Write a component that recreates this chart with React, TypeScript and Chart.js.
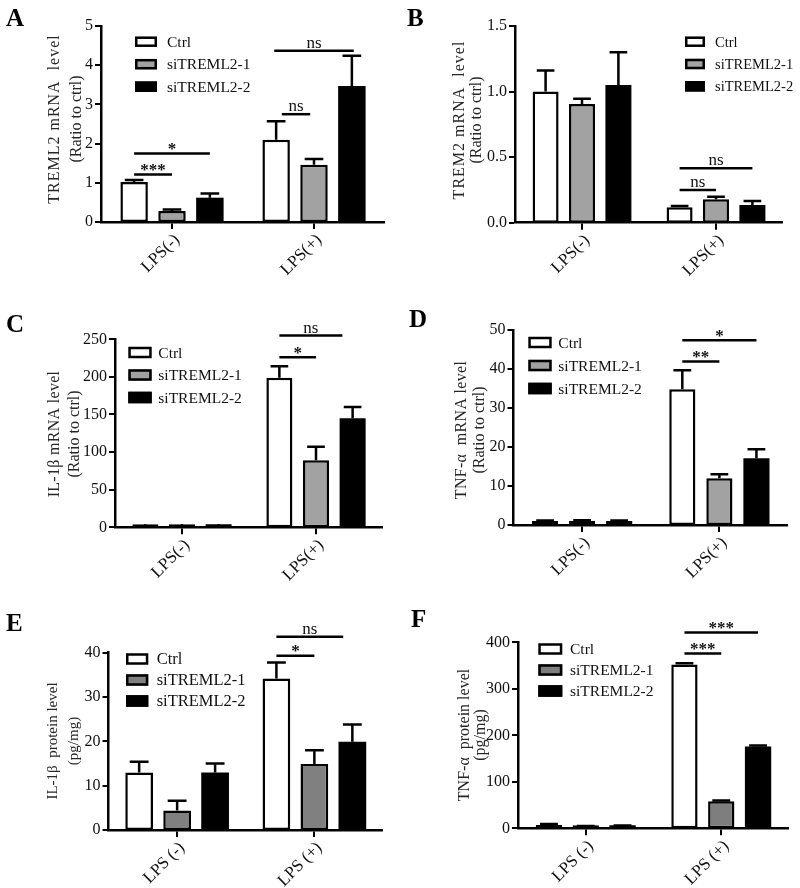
import React, { useEffect, useRef } from 'react';
import { Chart, registerables } from 'chart.js';

Chart.register(...registerables);

const FONT = '"Liberation Serif", "Times New Roman", Times, serif';

// ---------- shared categories ----------
const mrnaGroups = ['LPS(-)', 'LPS(+)'];
const proteinGroups = ['LPS (-)', 'LPS (+)'];
const seriesNames = ['Ctrl', 'siTREML2-1', 'siTREML2-2'];

// ---------- Panel A: TREML2 mRNA ----------
const aCtrl = [1.02, 2.1];
const aSi1 = [0.28, 1.46];
const aSi2 = [0.62, 3.47];
const aCtrlErr = [0.05, 0.47];
const aSi1Err = [0.04, 0.15];
const aSi2Err = [0.11, 0.77];
const aTicks = [0, 1, 2, 3, 4, 5];
// [group, fromBar, toBar, y, label]
const aSig: [number, number, number, number, string][] = [
  [0, 0, 1, 1.21, '***'],
  [0, 0, 2, 1.75, '*'],
  [1, 0.15, 0.9, 2.75, 'ns'],
  [1, -0.05, 2.05, 4.37, 'ns'],
];

// ---------- Panel B: TREM2 mRNA ----------
const bCtrl = [1.0, 0.117];
const bSi1 = [0.905, 0.178];
const bSi2 = [1.05, 0.135];
const bCtrlErr = [0.16, 0.01];
const bSi1Err = [0.04, 0.02];
const bSi2Err = [0.25, 0.03];
const bTicks = [0, 0.5, 1.0, 1.5];
const bSig: [number, number, number, number, string][] = [
  [1, 0, 1, 0.25, 'ns'],
  [1, 0, 2, 0.415, 'ns'],
];

// ---------- Panel C: IL-1β mRNA ----------
const cCtrl = [1, 199];
const cSi1 = [1.1, 89];
const cSi2 = [1.0, 145];
const cCtrlErr = [0.1, 15];
const cSi1Err = [0.1, 18];
const cSi2Err = [0.1, 15];
const cTicks = [0, 50, 100, 150, 200, 250];
const cSig: [number, number, number, number, string][] = [
  [1, 0, 1, 226, '*'],
  [1, 0, 1.72, 255, 'ns'],
];

// ---------- Panel D: TNF-α mRNA ----------
const dCtrl = [1.0, 34.8];
const dSi1 = [1.1, 12];
const dSi2 = [1.05, 17.1];
const dCtrlErr = [0.15, 4.9];
const dSi1Err = [0.15, 1];
const dSi2Err = [0.1, 2.3];
const dTicks = [0, 10, 20, 30, 40, 50];
const dSig: [number, number, number, number, string][] = [
  [1, 0, 1, 41.9, '**'],
  [1, 0, 2, 47.4, '*'],
];

// ---------- Panel E: IL-1β protein ----------
const eCtrl = [13.0, 34.2];
const eSi1 = [4.4, 14.9];
const eSi2 = [13.0, 19.9];
const eCtrlErr = [2.4, 3.6];
const eSi1Err = [2.2, 3.1];
const eSi2Err = [2.0, 3.9];
const eTicks = [0, 10, 20, 30, 40];
const eSig: [number, number, number, number, string][] = [
  [1, 0, 1, 39.3, '*'],
  [1, 0, 1.76, 43.6, 'ns'],
];

// ---------- Panel F: TNF-α protein ----------
const fCtrl = [7, 352];
const fSi1 = [4, 58];
const fSi2 = [5, 176];
const fCtrlErr = [2, 3];
const fSi1Err = [1, 2];
const fSi2Err = [1, 2];
const fTicks = [0, 100, 200, 300, 400];
const fSig: [number, number, number, number, string][] = [
  [1, 0, 1, 376, '***'],
  [1, 0, 2, 421, '***'],
];

// ---------- layout / styling (page coordinates) ----------
type PanelCfg = {
  letter: string;
  groups: string[];
  values: number[][];
  errs: number[][];
  ticks: number[];
  dec: number;
  sig: [number, number, number, number, string][];
  titles: string[];
  ox: number; oy: number; w: number; h: number;
  left: number; right: number; top: number; bottom: number;
  letterX: number; letterY: number;
  titleX: number[]; titleY: number; titleFont: number; titleSpacing: number;
  legX: number; legTextX: number; legY: number; legDy: number; legFont: number; boxW: number; boxH: number;
  gray: string; cp: number; bp: number;
};

const panels: PanelCfg[] = [
  {
    letter: 'A', groups: mrnaGroups, values: [aCtrl, aSi1, aSi2], errs: [aCtrlErr, aSi1Err, aSi2Err],
    ticks: aTicks, dec: 0, sig: aSig, titles: ['TREML2 mRNA  level', '(Ratio to ctrl)'],
    ox: 0, oy: 0, w: 400, h: 290, left: 101, right: 385, top: 26, bottom: 222,
    letterX: 6, letterY: 25.5, titleX: [55, 77], titleY: 119, titleFont: 16, titleSpacing: 1,
    legX: 135, legTextX: 167, legY: 41.7, legDy: 22.5, legFont: 15.5, boxW: 22, boxH: 10.5,
    gray: '#a2a2a2', cp: 0.8, bp: 0.725,
  },
  {
    letter: 'B', groups: mrnaGroups, values: [bCtrl, bSi1, bSi2], errs: [bCtrlErr, bSi1Err, bSi2Err],
    ticks: bTicks, dec: 1, sig: bSig, titles: ['TREM2 mRNA  level', '(Ratio to ctrl)'],
    ox: 400, oy: 0, w: 400, h: 290, left: 515, right: 783, top: 26, bottom: 222.7,
    letterX: 407, letterY: 25.5, titleX: [460, 477], titleY: 120, titleFont: 16, titleSpacing: 1,
    legX: 685, legTextX: 715, legY: 41.7, legDy: 22.3, legFont: 14.5, boxW: 20, boxH: 10.5,
    gray: '#a2a2a2', cp: 0.815, bp: 0.714,
  },
  {
    letter: 'C', groups: mrnaGroups, values: [cCtrl, cSi1, cSi2], errs: [cCtrlErr, cSi1Err, cSi2Err],
    ticks: cTicks, dec: 0, sig: cSig, titles: ['IL-1β mRNA level', '(Ratio to ctrl)'],
    ox: 0, oy: 290, w: 400, h: 300, left: 115, right: 383, top: 339.3, bottom: 527.3,
    letterX: 6, letterY: 332, titleX: [55, 75], titleY: 434, titleFont: 16, titleSpacing: 0.3,
    legX: 128.3, legTextX: 158.3, legY: 352.5, legDy: 22.5, legFont: 15.5, boxW: 23.4, boxH: 11.5,
    gray: '#a2a2a2', cp: 0.82, bp: 0.71,
  },
  {
    letter: 'D', groups: mrnaGroups, values: [dCtrl, dSi1, dSi2], errs: [dCtrlErr, dSi1Err, dSi2Err],
    ticks: dTicks, dec: 0, sig: dSig, titles: ['TNF-α  mRNA level', '(Ratio to ctrl)'],
    ox: 400, oy: 290, w: 400, h: 300, left: 513.5, right: 788, top: 330, bottom: 525,
    letterX: 409, letterY: 327, titleX: [462, 480], titleY: 430, titleFont: 16, titleSpacing: 0.3,
    legX: 528.3, legTextX: 558.3, legY: 342.5, legDy: 23, legFont: 15.5, boxW: 23.4, boxH: 11.5,
    gray: '#a2a2a2', cp: 0.81, bp: 0.705,
  },
  {
    letter: 'E', groups: proteinGroups, values: [eCtrl, eSi1, eSi2], errs: [eCtrlErr, eSi1Err, eSi2Err],
    ticks: eTicks, dec: 0, sig: eSig, titles: ['IL-1β  protein level', '(pg/mg)'],
    ox: 0, oy: 590, w: 400, h: 298, left: 108.5, right: 383, top: 652.7, bottom: 830,
    letterX: 6, letterY: 631, titleX: [53, 74], titleY: 741, titleFont: 15, titleSpacing: 0,
    legX: 126, legTextX: 156.7, legY: 659, legDy: 21, legFont: 16.5, boxW: 22.3, boxH: 11.5,
    gray: '#808080', cp: 0.83, bp: 0.73,
  },
  {
    letter: 'F', groups: proteinGroups, values: [fCtrl, fSi1, fSi2], errs: [fCtrlErr, fSi1Err, fSi2Err],
    ticks: fTicks, dec: 0, sig: fSig, titles: ['TNF-α  protein level', '(pg/mg)'],
    ox: 400, oy: 590, w: 400, h: 298, left: 518, right: 789, top: 642.3, bottom: 828.3,
    letterX: 411, letterY: 627, titleX: [465, 481], titleY: 735, titleFont: 16, titleSpacing: 0,
    legX: 538.3, legTextX: 570, legY: 649, legDy: 21, legFont: 15.5, boxW: 24, boxH: 11.5,
    gray: '#7e7e7e', cp: 0.815, bp: 0.715,
  },
];

function makeDecor(cfg: PanelCfg) {
  const fills = ['#ffffff', cfg.gray, '#000000'];
  return {
    id: 'decor' + cfg.letter,
    afterDatasetsDraw(chart: any) {
      const ctx = chart.ctx as CanvasRenderingContext2D;
      const ys = chart.scales.y;
      ctx.save();
      ctx.strokeStyle = '#000';
      ctx.lineWidth = 2.5;
      cfg.values.forEach((vals, d) => {
        const meta = chart.getDatasetMeta(d);
        vals.forEach((v, i) => {
          const el: any = meta.data[i];
          const top = ys.getPixelForValue(v + cfg.errs[d][i]);
          const half = el.width * 0.34;
          ctx.beginPath();
          ctx.moveTo(el.x, el.y);
          ctx.lineTo(el.x, top);
          ctx.moveTo(el.x - half, top);
          ctx.lineTo(el.x + half, top);
          ctx.stroke();
        });
      });
      ctx.restore();
    },
    afterDraw(chart: any) {
      const ctx = chart.ctx as CanvasRenderingContext2D;
      const ys = chart.scales.y;
      const ox = cfg.ox, oy = cfg.oy;
      ctx.save();
      // panel letter
      ctx.fillStyle = '#000';
      ctx.font = `bold 25px ${FONT}`;
      ctx.textAlign = 'left';
      ctx.textBaseline = 'alphabetic';
      ctx.fillText(cfg.letter, cfg.letterX - ox, cfg.letterY - oy);
      // y title
      ctx.fillStyle = '#262626';
      ctx.font = `${cfg.titleFont}px ${FONT}`;
      ctx.textAlign = 'center';
      ctx.textBaseline = 'middle';
      cfg.titles.forEach((t, k) => {
        ctx.save();
        (ctx as any).letterSpacing = k === 0 ? `${cfg.titleSpacing}px` : '0px';
        ctx.translate(cfg.titleX[k] - ox, cfg.titleY - oy);
        ctx.rotate(-Math.PI / 2);
        ctx.fillText(t, 0, 0);
        ctx.restore();
      });
      // legend
      ctx.font = `${cfg.legFont}px ${FONT}`;
      ctx.textAlign = 'left';
      seriesNames.forEach((name, k) => {
        const cy = cfg.legY - oy + k * cfg.legDy;
        const bx = cfg.legX - ox;
        const by = cy - cfg.boxH / 2;
        ctx.fillStyle = fills[k];
        ctx.fillRect(bx, by, cfg.boxW, cfg.boxH);
        ctx.strokeStyle = '#000';
        ctx.lineWidth = 2.5;
        ctx.strokeRect(bx + 1.25, by + 1.25, cfg.boxW - 2.5, cfg.boxH - 2.5);
        ctx.fillStyle = '#111';
        ctx.fillText(name, cfg.legTextX - ox, cy + 1);
      });
      // significance
      const m0 = chart.getDatasetMeta(0).data;
      const m1 = chart.getDatasetMeta(1).data;
      cfg.sig.forEach(([g, b0, b1, yv, label]) => {
        const base = m0[g].x;
        const slot = m1[g].x - m0[g].x;
        const x0 = base + b0 * slot;
        const x1 = base + b1 * slot;
        const y = ys.getPixelForValue(yv);
        ctx.strokeStyle = '#000';
        ctx.lineWidth = 2.5;
        ctx.beginPath();
        ctx.moveTo(x0, y);
        ctx.lineTo(x1, y);
        ctx.stroke();
        ctx.fillStyle = '#111';
        ctx.textAlign = 'center';
        ctx.textBaseline = 'alphabetic';
        if (label.indexOf('*') >= 0) {
          ctx.font = `bold 17px ${FONT}`;
          ctx.fillText(label, (x0 + x1) / 2, y + 0.5);
        } else {
          ctx.font = `17px ${FONT}`;
          ctx.fillText(label, (x0 + x1) / 2, y - 3);
        }
      });
      ctx.restore();
    },
  };
}

function buildConfig(cfg: PanelCfg): any {
  const fills = ['#ffffff', cfg.gray, '#000000'];
  const tickFont = { family: FONT, size: 16 };
  return {
    type: 'bar',
    data: {
      labels: cfg.groups,
      datasets: seriesNames.map((name, k) => ({
        label: name,
        data: cfg.values[k],
        backgroundColor: fills[k],
        borderColor: '#000',
        borderWidth: k === 2 ? 0 : 2.5,
        borderSkipped: false,
        categoryPercentage: cfg.cp,
        barPercentage: cfg.bp,
        minBarLength: 3,
      })),
    },
    options: {
      animation: false,
      responsive: false,
      devicePixelRatio: 1,
      events: [],
      layout: {
        autoPadding: false,
        padding: { left: 0, top: cfg.top - cfg.oy, right: cfg.ox + cfg.w - cfg.right, bottom: 0 },
      },
      plugins: {
        legend: { display: false },
        tooltip: { enabled: false },
        title: { display: false },
      },
      scales: {
        x: {
          type: 'category',
          offset: true,
          grid: {
            offset: false,
            drawOnChartArea: false,
            drawTicks: true,
            tickLength: 7,
            tickWidth: 2,
            tickColor: '#000',
            color: '#000',
            lineWidth: 0,
          },
          border: { display: true, color: '#000', width: 2.5, z: 1 },
          ticks: {
            autoSkip: false,
            minRotation: 45,
            maxRotation: 45,
            font: { family: FONT, size: 17 },
            color: '#111',
            padding: 1,
            labelOffset: 5,
          },
          afterFit: (s: any) => {
            s.height = cfg.oy + cfg.h - cfg.bottom;
          },
        },
        y: {
          type: 'linear',
          min: 0,
          max: cfg.ticks[cfg.ticks.length - 1],
          afterBuildTicks: (s: any) => {
            s.ticks = cfg.ticks.map((v) => ({ value: v }));
          },
          ticks: {
            font: tickFont,
            color: '#111',
            padding: 2,
            callback: (v: any) => Number(v).toFixed(cfg.dec),
          },
          grid: {
            drawOnChartArea: false,
            drawTicks: true,
            tickLength: 6,
            tickWidth: 2,
            tickColor: '#000',
            color: '#000',
            lineWidth: 0,
          },
          border: { display: true, color: '#000', width: 2.5, z: 1 },
          afterFit: (s: any) => {
            s.width = cfg.left - cfg.ox;
          },
        },
      },
    },
    plugins: [makeDecor(cfg)],
  };
}

function Panel({ cfg }: { cfg: PanelCfg }) {
  const ref = useRef<HTMLCanvasElement | null>(null);
  useEffect(() => {
    if (!ref.current) return;
    const chart = new Chart(ref.current, buildConfig(cfg));
    return () => chart.destroy();
  }, [cfg]);
  return (
    <canvas
      ref={ref}
      width={cfg.w}
      height={cfg.h}
      style={{ position: 'absolute', left: cfg.ox, top: cfg.oy, width: cfg.w, height: cfg.h }}
    />
  );
}

export default function App() {
  return (
    <div style={{ position: 'absolute', left: 0, top: 0, width: 800, height: 888, background: '#fff' }}>
      {panels.map((p) => (
        <Panel key={p.letter} cfg={p} />
      ))}
    </div>
  );
}
